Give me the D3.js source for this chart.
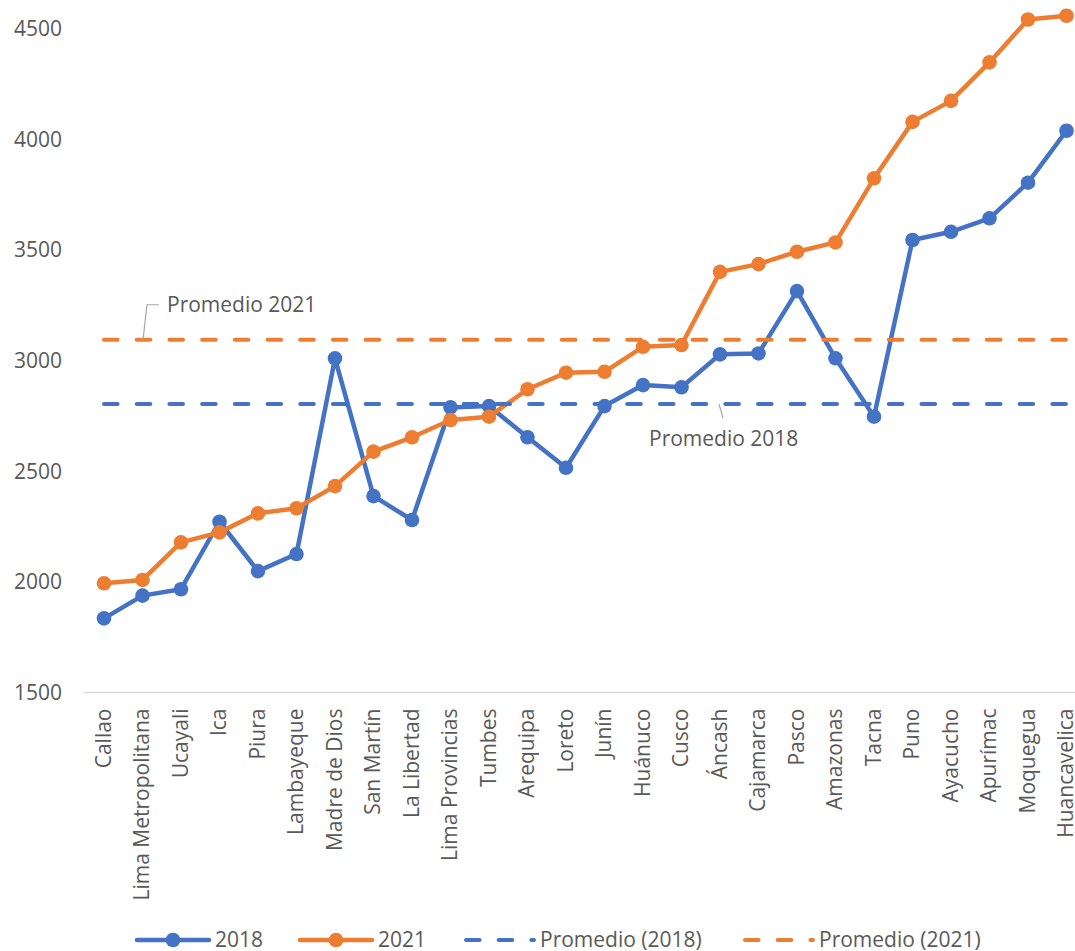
<!DOCTYPE html>
<html lang="es">
<head>
  <meta charset="UTF-8">
  <title>Promedio por región 2018 y 2021</title>
  <script src="https://cdn.jsdelivr.net/npm/d3@7"></script>
  <style>
    body { margin: 0; background: #fff; }
    svg { display: block; font-family: "Open Sans", sans-serif; }
  </style>
</head>
<body>

  <div id="container"></div>

  <script>
    // Regiones (eje x)
    const regiones = [
      "Callao", "Lima Metropolitana", "Ucayali", "Ica", "Piura", "Lambayeque",
      "Madre de Dios", "San Martín", "La Libertad", "Lima Provincias", "Tumbes",
      "Arequipa", "Loreto", "Junín", "Huánuco", "Cusco", "Áncash", "Cajamarca",
      "Pasco", "Amazonas", "Tacna", "Puno", "Ayacucho", "Apurímac", "Moquegua",
      "Huancavelica"
    ];

    // Valores
    const valores2018 = [
      1835, 1938, 1967, 2272, 2049, 2126, 3011, 2388, 2280, 2789, 2795,
      2654, 2516, 2795, 2890, 2880, 3029, 3033, 3315, 3011, 2747, 3546,
      3583, 3644, 3805, 4040
    ];
    const valores2021 = [
      1994, 2009, 2179, 2224, 2310, 2333, 2433, 2589, 2654, 2732, 2747,
      2871, 2946, 2950, 3063, 3071, 3402, 3437, 3493, 3535, 3825, 4080,
      4175, 4349, 4543, 4560
    ];

    const promedio2018 = 2804;
    const promedio2021 = 3095;

    const yTicks = [1500, 2000, 2500, 3000, 3500, 4000, 4500];

    const azul = "#4472C4";
    const naranja = "#ED7D31";
    const gris = "#595959";

    // Dimensiones
    const width = 1075;
    const height = 951;
    const fontSize = 21;

    const x = d3.scalePoint()
      .domain(regiones)
      .range([84.75, 1085.75])
      .padding(0.5);

    const y = d3.scaleLinear()
      .domain([1500, 4500])
      .range([692.5, 29]);

    const svg = d3.select("#container")
      .append("svg")
      .attr("width", width)
      .attr("height", height)
      .attr("viewBox", [0, 0, width, height]);

    // Eje x
    const ejeX = svg.append("g")
      .attr("transform", `translate(0,${y(1500)})`)
      .call(d3.axisBottom(x).tickSize(0).tickSizeOuter(0));
    ejeX.select(".domain")
      .attr("stroke", "#D9D9D9")
      .attr("stroke-width", 1.5)
      .attr("d", `M84,0H${width}`);
    ejeX.selectAll("text")
      .attr("fill", gris)
      .attr("font-size", fontSize)
      .attr("font-family", "Open Sans, sans-serif")
      .attr("text-anchor", "end")
      .attr("dy", "0.35em")
      .attr("transform", "translate(-1,16) rotate(-90)")
      .attr("x", 0)
      .attr("y", 0);

    // Eje y
    const ejeY = svg.append("g")
      .attr("transform", "translate(62,0)")
      .call(d3.axisLeft(y).tickValues(yTicks).tickFormat(d3.format("d")).tickSize(0).tickPadding(0));
    ejeY.select(".domain").remove();
    ejeY.selectAll("text")
      .attr("fill", gris)
      .attr("font-size", fontSize)
      .attr("font-family", "Open Sans, sans-serif");

    // Series
    const series = [
      { nombre: "2018", valores: valores2018, color: azul },
      { nombre: "2021", valores: valores2021, color: naranja }
    ];

    const linea = d3.line()
      .x((d, i) => x(regiones[i]))
      .y(d => y(d));

    series.forEach(s => {
      svg.append("path")
        .datum(s.valores)
        .attr("fill", "none")
        .attr("stroke", s.color)
        .attr("stroke-width", 4.5)
        .attr("stroke-linejoin", "round")
        .attr("d", linea);

      svg.append("g")
        .attr("fill", s.color)
        .selectAll("circle")
        .data(s.valores)
        .join("circle")
        .attr("cx", (d, i) => x(regiones[i]))
        .attr("cy", d => y(d))
        .attr("r", 7.3);
    });

    // Promedios (líneas discontinuas)
    const promedios = [
      { nombre: "Promedio (2018)", valor: promedio2018, color: azul },
      { nombre: "Promedio (2021)", valor: promedio2021, color: naranja }
    ];

    promedios.forEach(p => {
      svg.append("path")
        .datum(regiones.map(() => p.valor))
        .attr("fill", "none")
        .attr("stroke", p.color)
        .attr("stroke-width", 4)
        .attr("stroke-linecap", "round")
        .attr("stroke-dasharray", "13.6,19.1")
        .attr("d", linea);
    });

    // Etiquetas de promedio con líneas guía
    const guia = "#A6A6A6";
    svg.append("path")
      .attr("fill", "none")
      .attr("stroke", guia)
      .attr("stroke-width", 1.2)
      .attr("d", `M159,${y(promedio2021) - 35}H147L143,${y(promedio2021)}`);
    svg.append("text")
      .attr("x", 167)
      .attr("y", y(promedio2021) - 35)
      .attr("dy", "0.35em")
      .attr("fill", gris)
      .attr("font-size", fontSize)
      .text("Promedio 2021");

    svg.append("path")
      .attr("fill", "none")
      .attr("stroke", guia)
      .attr("stroke-width", 1.2)
      .attr("d", `M719,${y(promedio2018)}L723,${y(promedio2018) + 14}`);
    svg.append("text")
      .attr("x", 649)
      .attr("y", y(promedio2018) + 35)
      .attr("dy", "0.35em")
      .attr("fill", gris)
      .attr("font-size", fontSize)
      .text("Promedio 2018");

    // Leyenda
    const leyendaY = 940;
    const leyenda = [
      { x: 137, texto: "2018", color: azul, tipo: "linea" },
      { x: 300, texto: "2021", color: naranja, tipo: "linea" },
      { x: 464, texto: "Promedio (2018)", color: azul, tipo: "guion" },
      { x: 743, texto: "Promedio (2021)", color: naranja, tipo: "guion" }
    ];

    const ley = svg.append("g");
    leyenda.forEach(l => {
      if (l.tipo === "linea") {
        ley.append("line")
          .attr("x1", l.x).attr("x2", l.x + 72)
          .attr("y1", leyendaY).attr("y2", leyendaY)
          .attr("stroke", l.color)
          .attr("stroke-width", 4.5)
          .attr("stroke-linecap", "round");
        ley.append("circle")
          .attr("cx", l.x + 36).attr("cy", leyendaY)
          .attr("r", 7.3)
          .attr("fill", l.color);
        ley.append("text")
          .attr("x", l.x + 78).attr("y", leyendaY)
          .attr("dy", "0.35em")
          .attr("fill", gris)
          .attr("font-size", fontSize)
          .text(l.texto);
      } else {
        ley.append("line")
          .attr("x1", l.x + 2).attr("x2", l.x + 70)
          .attr("y1", leyendaY).attr("y2", leyendaY)
          .attr("stroke", l.color)
          .attr("stroke-width", 4)
          .attr("stroke-linecap", "round")
          .attr("stroke-dasharray", "13.6,19.1");
        ley.append("text")
          .attr("x", l.x + 76).attr("y", leyendaY)
          .attr("dy", "0.35em")
          .attr("fill", gris)
          .attr("font-size", fontSize)
          .text(l.texto);
      }
    });
  </script>

</body>
</html>
